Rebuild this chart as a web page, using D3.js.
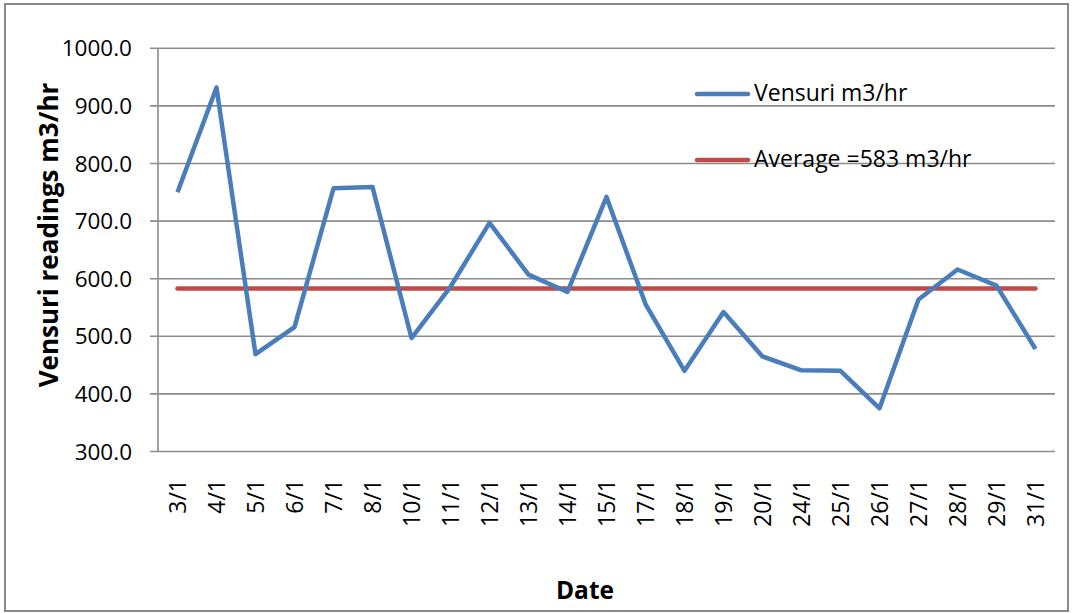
<!DOCTYPE html>
<html>
<head>
<meta charset="utf-8">
<script src="https://cdn.jsdelivr.net/npm/d3@7"></script>
<style>
  html, body { margin: 0; padding: 0; background: #fff; }
  svg { display: block; }
  text { font-family: "Open Sans", "Liberation Sans", sans-serif; fill: #000; }
</style>
</head>
<body>
<svg id="chart" width="1074" height="613"></svg>
<script>
// Daily venturi flow readings (m3/hr), January
const dates = ["3/1","4/1","5/1","6/1","7/1","8/1","10/1","11/1","12/1","13/1","14/1","15/1",
               "17/1","18/1","19/1","20/1","24/1","25/1","26/1","27/1","28/1","29/1","31/1"];
const readings = [750, 932, 469, 516, 757, 759, 497, 586, 697, 607, 577, 742,
                  556, 440, 542, 465, 441, 440, 375, 564, 616, 588, 478];
const averageValue = 583;
const yTicks = [300, 400, 500, 600, 700, 800, 900, 1000];
const seriesNames = ["Vensuri m3/hr", "Average =583 m3/hr"];

const svg = d3.select("#chart");
const margin = { left: 158, right: 1055, top: 48.3, bottom: 451.5 };
const blue = "#4a7ebb", red = "#be4b48", grid = "#8c8c8c";

// outer frame
svg.append("rect")
  .attr("x", 5).attr("y", 4).attr("width", 1063).attr("height", 607)
  .attr("fill", "#fff").attr("stroke", "#8a8a8a").attr("stroke-width", 2);

const x = d3.scaleBand().domain(dates).range([margin.left, margin.right]);
const y = d3.scaleLinear().domain([300, 1000]).range([margin.bottom, margin.top]);

// horizontal gridlines
svg.append("g").selectAll("line").data(yTicks).join("line")
  .attr("x1", margin.left - 8).attr("x2", margin.right)
  .attr("y1", d => y(d)).attr("y2", d => y(d))
  .attr("stroke", grid).attr("stroke-width", 1.6);

// y axis line
svg.append("line")
  .attr("x1", margin.left).attr("x2", margin.left)
  .attr("y1", margin.top).attr("y2", margin.bottom)
  .attr("stroke", grid).attr("stroke-width", 1.6);

// y tick labels
svg.append("g").selectAll("text").data(yTicks).join("text")
  .attr("x", 132).attr("y", d => y(d))
  .attr("dy", "0.36em")
  .attr("text-anchor", "end")
  .style("font-size", "22.5px")
  .text(d => d3.format(".1f")(d));

// x tick labels, rotated
svg.append("g").selectAll("text").data(dates).join("text")
  .attr("transform", d => `translate(${x(d) + x.bandwidth() / 2},479) rotate(-90)`)
  .attr("text-anchor", "end")
  .attr("dy", "0.36em")
  .style("font-size", "23px")
  .text(d => d);

// axis titles
svg.append("text")
  .attr("transform", "translate(49,235) rotate(-90)")
  .attr("text-anchor", "middle")
  .attr("dy", "0.36em")
  .style("font-size", "26px").style("font-weight", "bold")
  .text("Vensuri readings m3/hr");

svg.append("text")
  .attr("x", 585).attr("y", 590.5)
  .attr("dy", "0.36em")
  .attr("text-anchor", "middle")
  .style("font-size", "24.5px").style("font-weight", "bold")
  .text("Date");

const cx = d => x(d) + x.bandwidth() / 2;

// average line
svg.append("path")
  .datum(dates)
  .attr("fill", "none").attr("stroke", red).attr("stroke-width", 4.5)
  .attr("stroke-linecap", "round")
  .attr("d", d3.line().x(d => cx(d)).y(() => y(averageValue)));

// readings line
svg.append("path")
  .datum(dates.map((d, i) => ({ d, v: readings[i] })))
  .attr("fill", "none").attr("stroke", blue).attr("stroke-width", 4.5)
  .attr("stroke-linejoin", "round")
  .attr("d", d3.line().x(p => cx(p.d)).y(p => y(p.v)));

// legend
const legend = svg.append("g");
const legendRows = [{ name: seriesNames[0], color: blue, y: 94 }, { name: seriesNames[1], color: red, y: 160 }];
legendRows.forEach(r => {
  legend.append("line")
    .attr("x1", 697).attr("x2", 748).attr("y1", r.y).attr("y2", r.y)
    .attr("stroke", r.color).attr("stroke-width", 4.5).attr("stroke-linecap", "round");
  legend.append("text")
    .attr("x", 754).attr("y", r.y - 1).attr("dy", "0.36em")
    .style("font-size", "23px")
    .text(r.name);
});
</script>
</body>
</html>
